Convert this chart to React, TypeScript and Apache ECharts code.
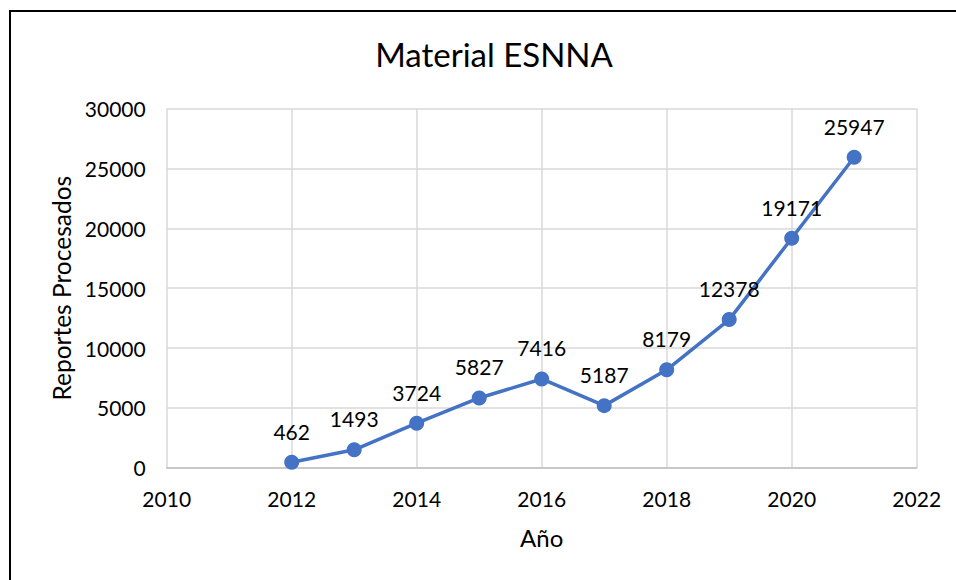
import React, { useEffect, useRef } from "react";
import * as echarts from "echarts";

const titleText = "Material ESNNA";
const years = [2012, 2013, 2014, 2015, 2016, 2017, 2018, 2019, 2020, 2021];
const reportes = [462, 1493, 3724, 5827, 7416, 5187, 8179, 12378, 19171, 25947];
const xAxisName = "Año";
const yAxisName = "Reportes Procesados";

const FONT = "Lato";

export default function App() {
  const ref = useRef<HTMLDivElement>(null);
  useEffect(() => {
    if (!ref.current) return;
    const chart = echarts.init(ref.current, undefined, { renderer: "svg" });
    chart.setOption({
      animation: false,
      backgroundColor: "#ffffff",
      textStyle: { fontFamily: FONT },
      title: {
        text: titleText,
        left: 489,
        top: 32,
        textAlign: "center",
        textStyle: { fontFamily: FONT, fontSize: 33, fontWeight: "normal", color: "#000000" },
      },
      graphic: [
        {
          type: "rect",
          shape: { x: 10, y: 11, width: 2000, height: 2000 },
          style: { fill: "none", stroke: "#000000", lineWidth: 2 },
          silent: true,
        },
      ],
      grid: { left: 166.7, right: 39.3, top: 108.7, bottom: 112.3 },
      xAxis: {
        type: "value",
        min: 2010,
        max: 2022,
        interval: 2,
        name: xAxisName,
        nameLocation: "middle",
        nameGap: 58,
        nameTextStyle: { fontFamily: FONT, fontSize: 24, color: "#000000" },
        axisLine: { show: true, lineStyle: { color: "#bfbfbf", width: 1.5 } },
        axisTick: { show: false },
        axisLabel: {
          fontFamily: FONT,
          fontSize: 21,
          color: "#000000",
          margin: 20,
          formatter: (v: number) => String(v),
        },
        splitLine: { show: true, lineStyle: { color: "#d9d9d9", width: 1.5 } },
      },
      yAxis: {
        type: "value",
        min: 0,
        max: 30000,
        interval: 5000,
        name: yAxisName,
        nameLocation: "middle",
        nameGap: 92,
        nameTextStyle: { fontFamily: FONT, fontSize: 24.5, color: "#000000" },
        axisLine: { show: false },
        axisTick: { show: false },
        axisLabel: {
          fontFamily: FONT,
          fontSize: 21,
          color: "#000000",
          margin: 21,
          formatter: (v: number) => String(v),
        },
        splitLine: { show: true, lineStyle: { color: "#d9d9d9", width: 1.5 } },
      },
      series: [
        {
          type: "line",
          data: years.map((y, i) => [y, reportes[i]]),
          symbol: "circle",
          symbolSize: 15,
          itemStyle: { color: "#4472C4" },
          lineStyle: { color: "#4472C4", width: 3.5 },
          label: {
            show: true,
            position: "top",
            distance: 13,
            fontFamily: FONT,
            fontSize: 21,
            color: "#000000",
            formatter: (p: any) => String(p.value[1]),
          },
        },
      ],
    });
    return () => chart.dispose();
  }, []);
  return (
    <div
      ref={ref}
      style={{ position: "fixed", left: 0, top: 0, width: 956, height: 580 }}
    />
  );
}
